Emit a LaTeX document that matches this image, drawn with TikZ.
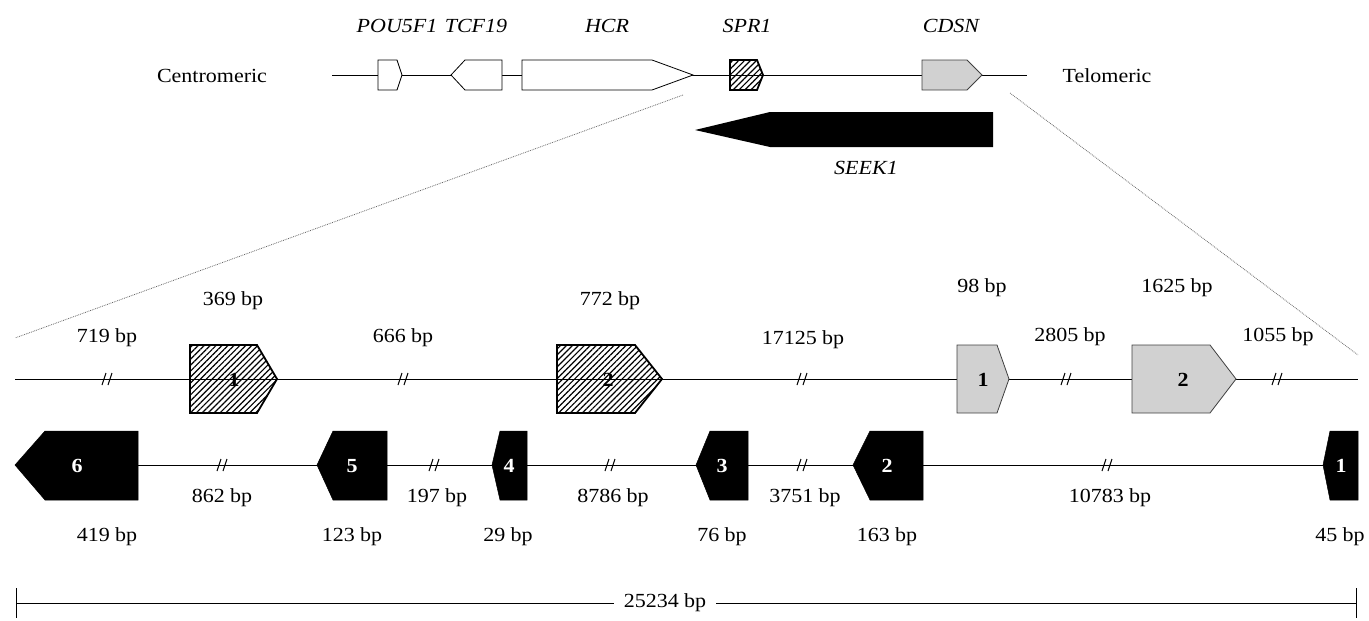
\documentclass[tikz,border=0pt]{standalone}
\usepackage{fontspec}
\setmainfont{Liberation Serif}[FakeStretch=1.1]
\usetikzlibrary{patterns.meta}
\tikzset{
  lbl/.style={font=\fontsize{20}{23}\selectfont, inner sep=0pt},
  glbl/.style={font=\fontsize{20}{23}\selectfont\itshape, inner sep=0pt},
  num/.style={font=\fontsize{20}{23}\selectfont\bfseries, inner sep=0pt},
  wnum/.style={num, text=white},
  seq/.style={line width=0.9pt, black},
  hatchbox/.style={line width=1.8pt, pattern={Lines[angle=45,distance=4.2pt,line width=1.2pt]}, pattern color=black},
  greybox/.style={line width=0.8pt, draw=black!75, fill=black!18},
  whitebox/.style={line width=0.8pt, draw=black, fill=white},
  blackbox/.style={fill=black, draw=black, line width=0.5pt},
  zoomline/.style={densely dotted, line width=0.8pt, black!60},
  brk/.style={line width=1pt}
}
\newcommand{\brkmark}[2]{%
  \draw[brk] (#1-5,#2+6) -- (#1-1,#2-6);
  \draw[brk] (#1+1,#2+6) -- (#1+5,#2-6);}
\begin{document}
\begin{tikzpicture}[x=1pt,y=-1pt]
\path[use as bounding box] (0,0) rectangle (1369,621);
% ---------- top overview ----------
\coordinate (tl) at (332,75);
\coordinate (tr) at (1027,75);
\draw[seq] (tl) -- (tr);
\node[lbl] (cen) at (212,76) {Centromeric};
\node[lbl] (tel) at (1107,76) {Telomeric};
\draw[whitebox] (378,60) -- (397,60) -- (402,75) -- (397,90) -- (378,90) -- cycle;
\draw[whitebox] (451,75) -- (465,60) -- (502,60) -- (502,90) -- (465,90) -- cycle;
\draw[whitebox] (522,60) -- (652,60) -- (693,75) -- (652,90) -- (522,90) -- cycle;
\draw[hatchbox] (730,60) -- (757,60) -- (763,75) -- (757,90) -- (730,90) -- cycle;
\draw[greybox] (922,60) -- (967,60) -- (982,75) -- (967,90) -- (922,90) -- cycle;
\fill[black] (695,130) -- (770,112) -- (993,112) -- (993,147) -- (770,147) -- cycle;
\node[glbl] (pou) at (397,26) {POU5F1};
\node[glbl] (tcf) at (476,26) {TCF19};
\node[glbl] (hcr) at (607,26) {HCR};
\node[glbl] (spr) at (747,26) {SPR1};
\node[glbl] (cdsn) at (951,26) {CDSN};
\node[glbl] (seek) at (866,168) {SEEK1};
% zoom lines
\coordinate (zl1) at (683,95);
\coordinate (zl2) at (15,338);
\coordinate (zr1) at (1010,93);
\coordinate (zr2) at (1358,355);
\draw[zoomline] (zl1) -- (zl2);
\draw[zoomline] (zr1) -- (zr2);
% ---------- middle: SPR1 and CDSN exons ----------
\coordinate (ml) at (15,379);
\coordinate (mr) at (1358,379);
\draw[seq] (ml) -- (mr);
\draw[hatchbox] (190,345) -- (257,345) -- (277,379) -- (257,413) -- (190,413) -- cycle;
\draw[hatchbox] (557,345) -- (635,345) -- (662,379) -- (635,413) -- (557,413) -- cycle;
\draw[greybox] (957,345) -- (997,345) -- (1009,379) -- (997,413) -- (957,413) -- cycle;
\draw[greybox] (1132,345) -- (1210,345) -- (1236,379) -- (1210,413) -- (1132,413) -- cycle;
\node[num] (h1) at (234,380) {1};
\node[num] (h2) at (608,380) {2};
\node[num] (g1) at (983,380) {1};
\node[num] (g2) at (1183,380) {2};
\brkmark{107}{379}
\brkmark{403}{379}
\brkmark{802}{379}
\brkmark{1066}{379}
\brkmark{1277}{379}
\node[lbl] (m1) at (107,338) {719 bp};
\node[lbl] (m2) at (233,301) {369 bp};
\node[lbl] (m3) at (403,338) {666 bp};
\node[lbl] (m4) at (610,301) {772 bp};
\node[lbl] (m5) at (803,340) {17125 bp};
\node[lbl] (m6) at (982,288) {98 bp};
\node[lbl] (m7) at (1070,337) {2805 bp};
\node[lbl] (m8) at (1177,288) {1625 bp};
\node[lbl] (m9) at (1278,337) {1055 bp};
% ---------- lower: SEEK1 exons ----------
\coordinate (ll) at (138,465);
\coordinate (lr) at (1323,465);
\draw[seq] (ll) -- (lr);
\draw[blackbox] (15,465) -- (45,431) -- (138,431) -- (138,500) -- (45,500) -- cycle;
\draw[blackbox] (317,465) -- (333,431) -- (387,431) -- (387,500) -- (333,500) -- cycle;
\draw[blackbox] (492,465) -- (500,431) -- (527,431) -- (527,500) -- (500,500) -- cycle;
\draw[blackbox] (696,465) -- (710,431) -- (748,431) -- (748,500) -- (710,500) -- cycle;
\draw[blackbox] (853,465) -- (870,431) -- (923,431) -- (923,500) -- (870,500) -- cycle;
\draw[blackbox] (1323,465) -- (1330,431) -- (1358,431) -- (1358,500) -- (1330,500) -- cycle;
\node[wnum] (b6) at (77,466) {6};
\node[wnum] (b5) at (352,466) {5};
\node[wnum] (b4) at (509,466) {4};
\node[wnum] (b3) at (722,466) {3};
\node[wnum] (b2) at (887,466) {2};
\node[wnum] (b1) at (1341,466) {1};
\brkmark{222}{465}
\brkmark{434}{465}
\brkmark{610}{465}
\brkmark{802}{465}
\brkmark{1107}{465}
\node[lbl] (l1) at (222,498) {862 bp};
\node[lbl] (l2) at (437,498) {197 bp};
\node[lbl] (l3) at (613,498) {8786 bp};
\node[lbl] (l4) at (805,498) {3751 bp};
\node[lbl] (l5) at (1110,498) {10783 bp};
\node[lbl] (e6) at (107,537) {419 bp};
\node[lbl] (e5) at (352,537) {123 bp};
\node[lbl] (e4) at (508,537) {29 bp};
\node[lbl] (e3) at (722,537) {76 bp};
\node[lbl] (e2) at (887,537) {163 bp};
\node[lbl] (e1) at (1340,537) {45 bp};
% ---------- scale bar ----------
\coordinate (sl) at (16,603);
\coordinate (sr) at (1356,603);
\node[lbl, fill=white, inner xsep=10pt] (tot) at (665,603) {25234 bp};
\draw[seq] (sl) -- (tot.west);
\draw[seq] (tot.east) -- (sr);
\draw[seq] (16,588) -- (16,618);
\draw[seq] (1356,588) -- (1356,618);
\end{tikzpicture}
\end{document}
